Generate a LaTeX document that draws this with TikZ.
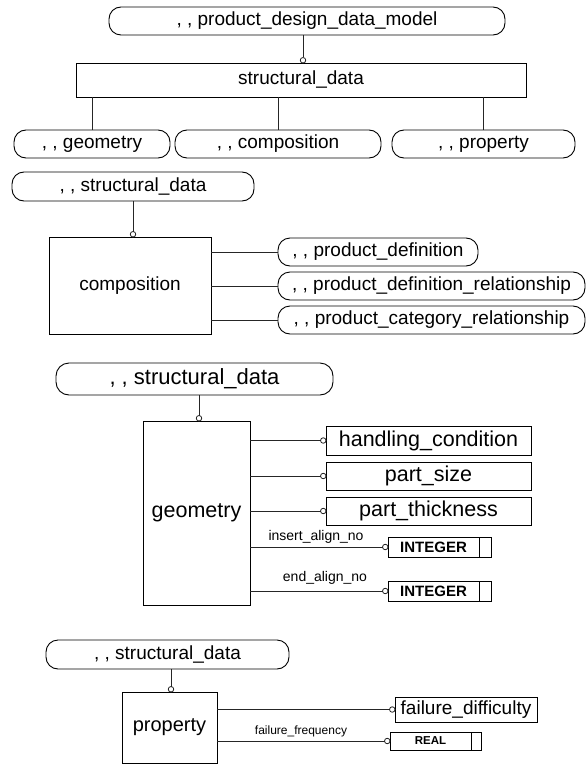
\documentclass[tikz,border=0pt]{standalone}
\usepackage{fontspec}
\setmainfont{Liberation Sans}
\newcommand\fsz[1]{\fontsize{#1}{#1}\selectfont}
\tikzset{
  base/.style={inner sep=0pt, outer sep=0pt, line width=0.9pt, draw=black, text=black},
  ent/.style={base, rectangle},
  refbox/.style={base, rectangle, rounded corners=12pt},
  ring/.style={circle, draw=black!85, line width=0.8pt, fill=white,
               minimum size=5.5pt, inner sep=0pt, outer sep=0pt},
  link/.style={draw=black!85, line width=0.9pt},
  attr/.style={inner sep=0pt, outer sep=0pt, text=black},
  typebox/.style={ent, font=\fsz{15}\bfseries},
}
\begin{document}
\begin{tikzpicture}[x=1pt, y=-1pt]
\useasboundingbox (0,0) rectangle (588,765);

% ---------- structural_data schema overview ----------
\node[refbox, minimum width=396pt, minimum height=28pt, font=\fsz{19}] (pddm) at (307,21) {, , product\_design\_data\_model};
\node[ent, minimum width=450pt, minimum height=34pt, font=\fsz{19}] (sd) at (301,80) {structural\_data};
\node[refbox, minimum width=156pt, minimum height=28pt, font=\fsz{19}] (geo1) at (92,144) {, , geometry};
\node[refbox, minimum width=206pt, minimum height=28pt, font=\fsz{19}] (comp1) at (278,144) {, , composition};
\node[refbox, minimum width=183pt, minimum height=28pt, font=\fsz{19}] (prop1) at (483.5,144) {, , property};

\node[ring, anchor=south] (r0) at (sd.north -| 303,0) {};
\draw[link] (r0.north |- pddm.south) -- (r0.north);
\draw[link] (sd.south -| geo1.north) -- (geo1.north);
\draw[link] (sd.south -| comp1.north) -- (comp1.north);
\draw[link] (sd.south -| prop1.north) -- (prop1.north);

% ---------- composition ----------
\node[refbox, minimum width=242pt, minimum height=29pt, font=\fsz{19}] (sd2) at (133,186.5) {, , structural\_data};
\node[ent, minimum width=162pt, minimum height=97pt, font=\fsz{19}] (comp) at (130,285.5) {composition};
\node[refbox, minimum width=200pt, minimum height=28pt, font=\fsz{19}] (pd) at (378,252) {, , product\_definition};
\node[refbox, minimum width=307pt, minimum height=28pt, font=\fsz{19}] (pdr) at (431.5,286) {, , product\_definition\_relationship};
\node[refbox, minimum width=307pt, minimum height=28pt, font=\fsz{19}] (pcr) at (431.5,320) {, , product\_category\_relationship};

\node[ring, anchor=south] (r2) at (comp.north -| sd2.south) {};
\draw[link] (sd2.south) -- (r2.north);
\draw[link] (comp.east |- pd.west) -- (pd.west);
\draw[link] (comp.east |- pdr.west) -- (pdr.west);
\draw[link] (comp.east |- pcr.west) -- (pcr.west);

% ---------- geometry ----------
\node[refbox, rounded corners=13pt, minimum width=277pt, minimum height=32pt, font=\fsz{22}] (sd3) at (194.5,379) {, , structural\_data};
\node[ent, minimum width=107pt, minimum height=184pt, font=\fsz{21.5}] (geom) at (196.5,513) {geometry};
\node[ent, minimum width=205pt, minimum height=29pt, font=\fsz{21.5}] (hc) at (428.5,440.5) {handling\_condition};
\node[ent, minimum width=205pt, minimum height=28pt, font=\fsz{21.5}] (ps) at (428.5,476) {part\_size};
\node[ent, minimum width=205pt, minimum height=28pt, font=\fsz{21.5}] (pt) at (428.5,511) {part\_thickness};
\node[typebox, minimum width=91pt, minimum height=20pt] (int1) at (433.5,547) {INTEGER};
\node[ent, minimum width=12pt, minimum height=20pt, anchor=west] (int1e) at (int1.east) {};
\node[typebox, minimum width=91pt, minimum height=20pt] (int2) at (433.5,591) {INTEGER};
\node[ent, minimum width=12pt, minimum height=20pt, anchor=west] (int2e) at (int2.east) {};

\node[ring, anchor=south] (r3) at (geom.north -| 199,0) {};
\draw[link] (r3.north |- sd3.south) -- (r3.north);
\foreach \t in {hc, ps, pt, int1, int2} {
  \node[ring, anchor=east] (r-\t) at (\t.west) {};
  \draw[link] (geom.east |- r-\t.west) -- (r-\t.west);
}
\node[attr, font=\fsz{14}] (l1) at (316,537) {insert\_align\_no};
\node[attr, font=\fsz{14}] (l2) at (325,578) {end\_align\_no};

% ---------- property ----------
\node[refbox, minimum width=243pt, minimum height=29pt, font=\fsz{19}] (sd4) at (167.5,654.5) {, , structural\_data};
\node[ent, minimum width=95pt, minimum height=71pt, font=\fsz{20}] (prop) at (169.5,727.5) {property};
\node[ent, minimum width=142pt, minimum height=25pt, font=\fsz{19}] (fd) at (466,709.5) {failure\_difficulty};
\node[ent, minimum width=81pt, minimum height=18pt, font=\fsz{11.5}\bfseries] (real) at (430.5,741) {REAL};
\node[ent, minimum width=10pt, minimum height=18pt, anchor=west] (reale) at (real.east) {};

\node[ring, anchor=south] (r4) at (prop.north -| 171,0) {};
\draw[link] (r4.north |- sd4.south) -- (r4.north);
\foreach \t in {fd, real} {
  \node[ring, anchor=east] (r-\t) at (\t.west) {};
  \draw[link] (prop.east |- r-\t.west) -- (r-\t.west);
}
\node[attr, font=\fsz{12}] (l3) at (301,731) {failure\_frequency};
\end{tikzpicture}
\end{document}
